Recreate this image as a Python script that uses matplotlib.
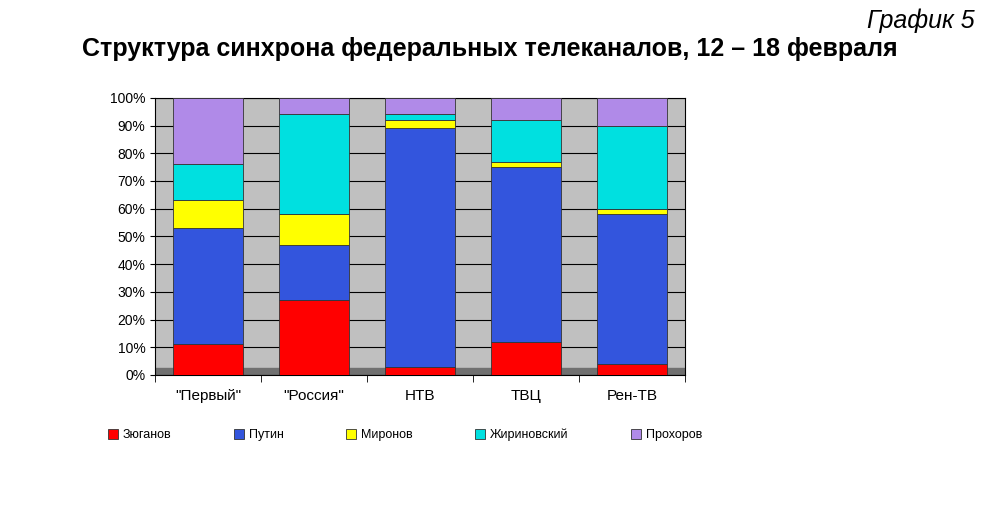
import matplotlib
matplotlib.use("Agg")
import matplotlib.pyplot as plt
import numpy as np
from matplotlib.patches import Rectangle

plt.rcParams['font.family'] = ['Liberation Sans', 'DejaVu Sans']

channels = ['"Первый"', '"Россия"', 'НТВ', 'ТВЦ', 'Рен-ТВ']
candidates = ['Зюганов', 'Путин', 'Миронов', 'Жириновский', 'Прохоров']
zyuganov = [11, 27, 3, 12, 4]
putin = [42, 20, 86, 63, 54]
mironov = [10, 11, 3, 2, 2]
zhirinovsky = [13, 36, 2, 15, 30]
prokhorov = [24, 6, 6, 8, 10]
series = [zyuganov, putin, mironov, zhirinovsky, prokhorov]
colors = ['#ff0000', '#3355dd', '#ffff00', '#00e0e0', '#b08ae8']

fig = plt.figure(figsize=(10, 5.15), dpi=100)
ax = fig.add_axes([0.155, 0.272, 0.53, 0.538])
ax.set_facecolor('#c0c0c0')
x = np.arange(len(channels))
bottom = np.zeros(len(channels))
for vals, c, name in zip(series, colors, candidates):
    ax.bar(x, vals, bottom=bottom, width=0.66, color=c, edgecolor='#333333',
           linewidth=0.6, label=name, zorder=3)
    bottom += np.array(vals)
ax.set_ylim(0, 100)
ax.set_xlim(-0.5, 4.5)
ax.set_yticks(range(0, 101, 10))
ax.set_yticklabels([f'{v}%' for v in range(0, 101, 10)], fontsize=10)
ax.yaxis.grid(True, color='black', linewidth=0.8, zorder=0)
ax.set_xticks(x)
ax.set_xticklabels(channels, fontsize=11)
ax.tick_params(axis='x', length=0, pad=10)
ax.set_xticks(np.arange(-0.5, 5, 1), minor=True)
ax.tick_params(axis='x', which='minor', length=5)
for s in ax.spines.values():
    s.set_color('black'); s.set_linewidth(0.8)
ax.add_patch(Rectangle((-0.5, 0), 5, 2.5, color='#707070', zorder=1))

fig.text(0.975, 0.96, 'График 5', ha='right', va='center', fontsize=18, style='italic')
fig.text(0.49, 0.905, 'Структура синхрона федеральных телеканалов, 12 – 18 февраля',
         ha='center', va='center', fontsize=18, fontweight='bold')
handles, labels = ax.get_legend_handles_labels()
fig.legend(handles, labels, loc='center', bbox_to_anchor=(0.405, 0.155), ncol=5,
           frameon=False, fontsize=9, handlelength=0.8, handleheight=0.8,
           columnspacing=5, handletextpad=0.4)
fig.savefig('out.png', dpi=100, facecolor='white')
